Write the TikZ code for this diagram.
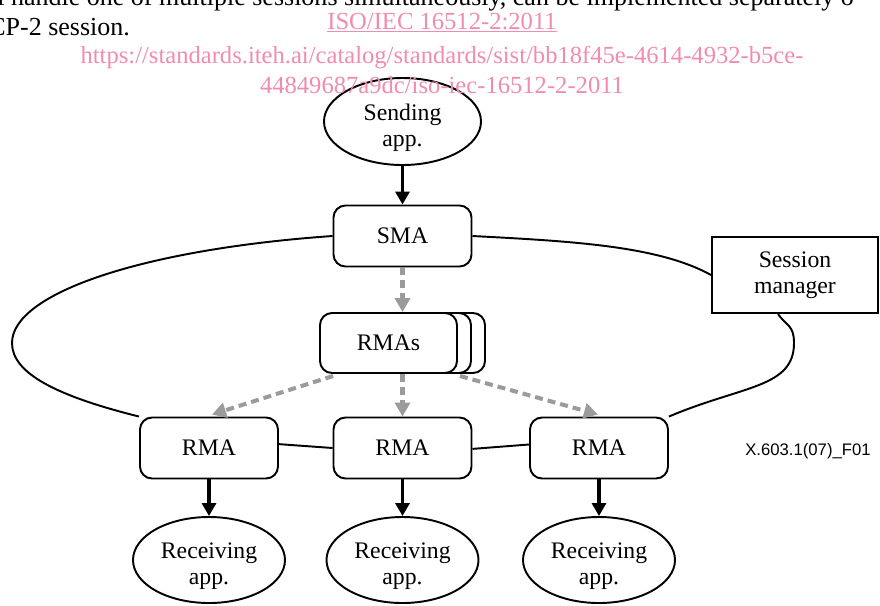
\documentclass[tikz,border=0pt]{standalone}
\usepackage{fontspec}
\setmainfont{Liberation Serif}
\newfontfamily\labelfont{Liberation Sans}
\usetikzlibrary{shapes.geometric,arrows.meta,calc,backgrounds}
\definecolor{flowgray}{RGB}{155,155,155}
\definecolor{markpink}{RGB}{240,140,172}
\newcommand{\applift}{\rule{0pt}{5.7mm}}
\begin{document}
\begin{tikzpicture}[x=0.2mm, y=0.2mm]
    \tikzstyle{every node}+=[inner sep=0pt, align=center, font=\fontsize{13.5}{14.7}\selectfont]
    \tikzstyle{app}=[draw, line width=1.1pt, ellipse, fill=white]
    \tikzstyle{agent}=[draw, line width=1.1pt, rounded corners=2.4mm, fill=white, minimum width=27.6mm, minimum height=12.2mm]
    \tikzstyle{ring}=[line width=1.1pt]
    \tikzstyle{push}=[line width=2pt, -{Triangle[length=2.6mm,width=2.8mm]}]
    \tikzstyle{flow}=[line width=2.3pt, flowgray, dash pattern=on 1.6mm off 1mm, -{Triangle[length=2.8mm,width=3mm]}]
    \tikzstyle{header}=[anchor=base west, font=\fontsize{14.8}{16}\selectfont]
    \tikzstyle{stamp}=[anchor=base, markpink, font=\fontsize{14}{15}\selectfont]
    \useasboundingbox (0,0) rectangle (880,-605);
    \clip (0,0) rectangle (880,-605);
    \node[header] (line1) at (-3,-5) {l handle one of multiple sessions simultaneously, can be implemented separately o};
    \node[header] (line2) at (-12,-35) {CP-2 session.};
    \node[app, minimum width=31.4mm, minimum height=17.4mm] (send) at (402.5,-121.5) {\applift Sending\\app.};
    \node[agent] (sma) at (402.5,-236) {SMA};
    \node[agent, minimum width=27.4mm, minimum height=12mm] (rmas3) at (416.5,-343) {};
    \node[agent, minimum width=27.4mm, minimum height=12mm] (rmas2) at (402.5,-343) {};
    \node[agent, minimum width=27.4mm, minimum height=12mm] (rmas) at (388.5,-343) {RMAs};
    \node[agent] (rma1) at (209,-448) {RMA};
    \node[agent] (rma2) at (402.5,-448) {RMA};
    \node[agent] (rma3) at (599,-448) {RMA};
    \node[draw, line width=1.1pt, fill=white, minimum width=33.2mm, minimum height=15.2mm] (sm) at (795,-275) {Session\\manager};
    \node[app, minimum width=30.4mm, minimum height=17.2mm] (recv1) at (209,-560) {\applift Receiving\\app.};
    \node[app, minimum width=30.4mm, minimum height=17.2mm] (recv2) at (402.5,-560) {\applift Receiving\\app.};
    \node[app, minimum width=30.4mm, minimum height=17.2mm] (recv3) at (599,-560) {\applift Receiving\\app.};
    \node[anchor=west, font=\labelfont\fontsize{9.5}{11}\selectfont] (fig) at (745,-451) {X.603.1(07)\_F01};
    \coordinate (ringw) at (12,-343);
    \coordinate (ringe) at (794,-343);
    \coordinate (smfoot) at ($(sm.south)+(-17,0)$);
    \begin{scope}[on background layer]
    \draw[ring] (sma.west) .. controls +(184:189) and +(90:50) .. (ringw) .. controls +(270:30) and +(166:86) .. (rma1.north west);
    \draw[ring] ([yshift=2.2pt]rma1.east) -- (rma2.west);
    \draw[ring] ([yshift=-0.5pt]rma2.east) -- ([yshift=2pt]rma3.west);
    \draw[ring] (rma3.north east) .. controls +(23:80) and +(270:45) .. (ringe) .. controls +(90:18) and +(-55:15) .. (smfoot);
    \draw[ring] (sma.east) .. controls +(-3:100) and +(151:60) .. (sm.west);
    \end{scope}
    \draw[push] (send) -- (sma);
    \draw[flow] (sma) -- (sma |- rmas.north);
    \draw[flow] ($(rmas.south west)+(14,-2)$) -- ($(rma1.north)+(3,2)$);
    \draw[flow] (rmas2.south) -- (rma2.north);
    \draw[flow] ($(rmas3.south east)+(-26,-2)$) -- ($(rma3.north)+(-1,2)$);
    \draw[push] (rma1) -- (recv1);
    \draw[push] (rma2) -- (recv2);
    \draw[push] (rma3) -- (recv3);
    \node[stamp] (iso) at (442,-29) {\underline{ISO/IEC 16512-2:2011}};
    \node[stamp] (url1) at (442,-63) {https://standards.iteh.ai/catalog/standards/sist/bb18f45e-4614-4932-b5ce-};
    \node[stamp] (url2) at (442,-93) {44849687a9dc/iso-iec-16512-2-2011};
\end{tikzpicture}
\end{document}
